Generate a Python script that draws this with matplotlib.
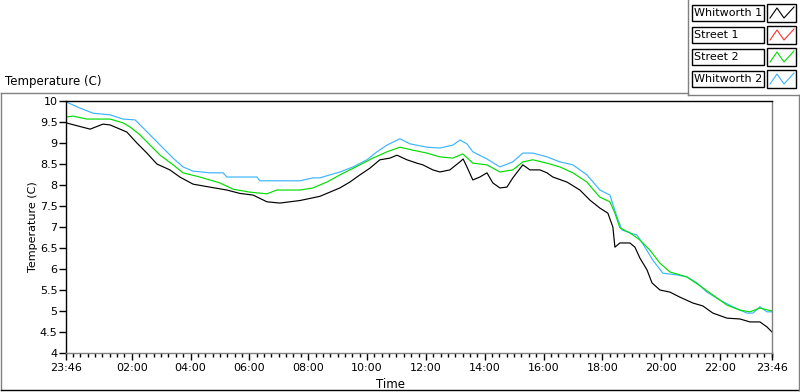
import numpy as np
import matplotlib
matplotlib.use("Agg")
import matplotlib.pyplot as plt
from matplotlib.lines import Line2D
from matplotlib.patches import Rectangle

# hours since 23:46 and temperature (C)
w1_hours = [0.00, 0.82, 1.26, 1.50, 2.07, 2.41, 2.75, 3.09, 3.53, 3.87, 4.32, 4.89,
            5.47, 5.91, 6.36, 6.83, 7.27, 7.95, 8.63, 9.31, 9.65, 9.99, 10.33, 10.67,
            11.01, 11.25, 11.59, 11.93, 12.13, 12.47, 12.71, 13.05, 13.39, 13.50, 13.63,
            13.83, 14.07, 14.31, 14.51, 14.75, 14.99, 15.19, 15.53, 15.77, 16.11, 16.35,
            16.55, 17.03, 17.47, 17.81, 18.15, 18.42, 18.59, 18.66, 18.83, 19.17, 19.34,
            19.51, 19.75, 19.92, 20.19, 20.53, 20.87, 21.31, 21.65, 21.99, 22.47, 22.91,
            23.25, 23.59, 23.83, 24.00]
w1_temp = [9.48, 9.33, 9.45, 9.43, 9.26, 9.00, 8.76, 8.50, 8.36, 8.19, 8.02, 7.95,
           7.88, 7.80, 7.76, 7.60, 7.57, 7.63, 7.73, 7.93, 8.07, 8.24, 8.40, 8.60,
           8.64, 8.71, 8.60, 8.52, 8.48, 8.36, 8.31, 8.36, 8.55, 8.62, 8.43,
           8.12, 8.19, 8.29, 8.05, 7.93, 7.95, 8.17, 8.48, 8.36, 8.36, 8.29,
           8.19, 8.07, 7.88, 7.64, 7.45, 7.33, 7.00, 6.52, 6.62, 6.62, 6.52,
           6.26, 5.98, 5.67, 5.50, 5.45, 5.33, 5.19, 5.12, 4.95, 4.83, 4.81,
           4.74, 4.74, 4.62, 4.50]

s1_hours = []
s1_temp = []

s2_hours = [0.00, 0.24, 0.71, 1.50, 1.94, 2.18, 2.52, 2.86, 3.20, 3.64, 3.98, 4.55,
            5.23, 5.68, 6.25, 6.83, 7.17, 7.95, 8.40, 8.63, 8.87, 9.31, 9.99, 10.43,
            10.91, 11.35, 11.79, 12.27, 12.71, 13.15, 13.49, 13.83, 14.31, 14.75, 15.19,
            15.53, 15.87, 16.35, 16.79, 17.23, 17.71, 17.91, 18.15, 18.49, 18.66, 18.83,
            19.17, 19.51, 19.85, 20.19, 20.53, 21.11, 21.55, 21.99, 22.47, 22.91, 23.25,
            23.59, 24.00]
s2_temp = [9.62, 9.64, 9.57, 9.57, 9.48, 9.38, 9.19, 8.95, 8.71, 8.48, 8.29, 8.19,
           8.05, 7.90, 7.83, 7.79, 7.88, 7.88, 7.93, 8.00, 8.07, 8.24, 8.48, 8.64,
           8.79, 8.90, 8.83, 8.76, 8.67, 8.64, 8.74, 8.52, 8.48, 8.31, 8.36,
           8.55, 8.60, 8.52, 8.43, 8.29, 8.07, 7.90, 7.71, 7.60, 7.33, 6.98,
           6.86, 6.69, 6.45, 6.14, 5.93, 5.81, 5.60, 5.38, 5.14, 5.02, 4.98,
           5.07, 5.00]

w2_hours = [0.00, 0.48, 0.92, 1.50, 1.94, 2.35, 2.62, 2.96, 3.30, 3.64, 3.98, 4.32,
            4.89, 5.34, 5.47, 6.49, 6.59, 7.95, 8.40, 8.63, 9.31, 9.76, 10.23, 10.57,
            10.91, 11.35, 11.69, 12.27, 12.71, 13.15, 13.39, 13.63, 13.83, 14.31, 14.75,
            15.19, 15.53, 15.87, 16.35, 16.79, 17.23, 17.71, 18.15, 18.49, 18.73, 18.90,
            19.17, 19.41, 19.68, 19.95, 20.29, 20.77, 21.11, 21.45, 21.79, 22.23, 22.67,
            23.15, 23.35, 23.59, 23.83, 24.00]
w2_temp = [9.98, 9.83, 9.71, 9.67, 9.57, 9.55, 9.36, 9.12, 8.88, 8.64, 8.43, 8.33,
           8.29, 8.29, 8.19, 8.19, 8.10, 8.10, 8.17, 8.17, 8.31, 8.43, 8.60, 8.79,
           8.95, 9.10, 8.98, 8.90, 8.88, 8.95, 9.07, 8.98, 8.79, 8.62, 8.43,
           8.55, 8.76, 8.76, 8.67, 8.55, 8.48, 8.24, 7.88, 7.76, 7.24, 6.93,
           6.86, 6.81, 6.52, 6.21, 5.90, 5.86, 5.81, 5.67, 5.45, 5.26, 5.10,
           4.95, 4.95, 5.10, 4.98, 4.98]

names = ["Whitworth 1", "Street 1", "Street 2", "Whitworth 2"]
colors = ["black", "#ff3030", "#00dd00", "#3cb4ff"]

x_tick_labels = ["23:46", "02:00", "04:00", "06:00", "08:00", "10:00", "12:00",
                 "14:00", "16:00", "18:00", "20:00", "22:00", "23:46"]
y_ticks = [4, 4.5, 5, 5.5, 6, 6.5, 7, 7.5, 8, 8.5, 9, 9.5, 10]

plt.rcParams['font.family'] = ['DejaVu Sans']

fig = plt.figure(figsize=(8, 3.92), dpi=100)
W, H = 800.0, 392.0
ax = fig.add_axes([66 / W, 1 - 353 / H, (772 - 66) / W, (353 - 101) / H])

series = [(w1_hours, w1_temp), (s1_hours, s1_temp), (s2_hours, s2_temp), (w2_hours, w2_temp)]
# draw order: street lines underneath, black on top
for i in [1, 3, 2, 0]:
    h, t = series[i]
    ax.plot(h, t, color=colors[i], lw=0.85)

ax.set_xlim(0, 24)
ax.set_ylim(4, 10)

# 02:00 is 2h14m after 23:46
major = [0] + [2 + 14 / 60 + 2 * k for k in range(11)] + [24]
ax.set_xticks(major)
ax.set_xticklabels(x_tick_labels, fontsize=8)
ax.set_xticks(np.arange(14 / 60, 24, 0.25), minor=True)
ax.set_yticks(y_ticks)
ax.set_yticklabels(["%g" % v for v in y_ticks], fontsize=8)
ax.tick_params(axis='x', which='major', length=5, width=1, pad=2)
ax.tick_params(axis='x', which='minor', length=3, width=1)
ax.tick_params(axis='y', length=5, width=1, pad=1)

ax.spines['top'].set_color('black')
ax.spines['left'].set_color('black')
ax.spines['right'].set_color('#808080')
ax.spines['bottom'].set_color('#808080')
for s in ax.spines.values():
    s.set_linewidth(1)

fig.text(33 / W, 1 - 227 / H, "Temperature (C)", rotation=90, fontsize=8,
         ha='center', va='center')
fig.text(390 / W, 1 - 384 / H, "Time", fontsize=8.5, ha='center', va='center')
fig.text(5 / W, 1 - 82 / H, "Temperature (C)", fontsize=8.5, ha='left', va='center')

# panel frame
def fline(xs, ys, c):
    fig.add_artist(Line2D([x / W for x in xs], [1 - y / H for y in ys],
                          color=c, lw=1, transform=fig.transFigure))

fline([1, 688], [92.5, 92.5], '#808080')
fline([1, 1], [92.5, 390], '#808080')
fline([1, 799], [390, 390], 'black')
fline([799, 799], [95, 390], '#808080')
fline([688, 688], [0, 95], '#808080')
fline([688, 799], [95, 95], '#808080')

# legend
for i, name in enumerate(names):
    cy = 13 + 22 * i
    fig.add_artist(Rectangle((692 / W, 1 - (cy + 8) / H), 72 / W, 16 / H,
                             transform=fig.transFigure, fill=False,
                             edgecolor='black', lw=1))
    fig.text(694 / W, 1 - cy / H, name, fontsize=8, ha='left', va='center')
    fig.add_artist(Rectangle((767 / W, 1 - (cy + 9) / H), 29 / W, 18 / H,
                             transform=fig.transFigure, fill=False,
                             edgecolor='black', lw=1))
    zx = [770, 777, 784, 794]
    zy = [cy + 5, cy - 5, cy + 5, cy - 6]
    fig.add_artist(Line2D([x / W for x in zx], [1 - y / H for y in zy],
                          color=colors[i], lw=0.8, transform=fig.transFigure))

fig.savefig("out.png", dpi=100)
